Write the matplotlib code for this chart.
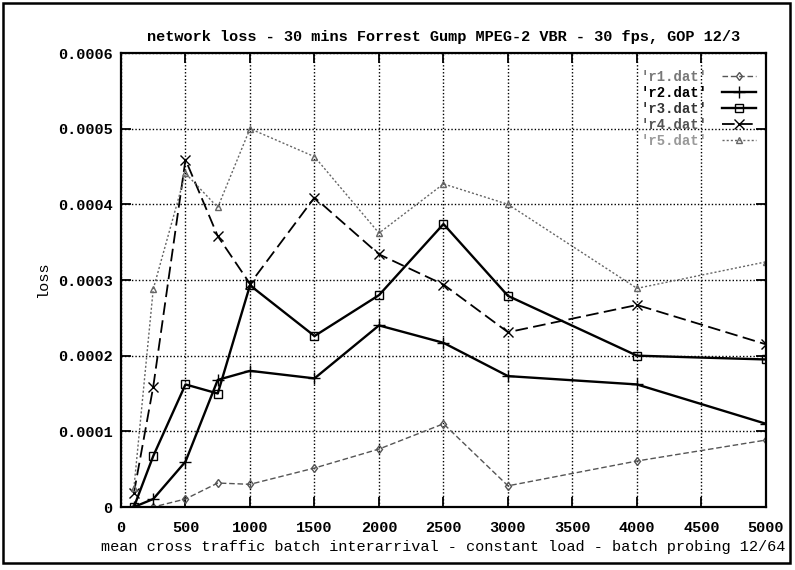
import matplotlib
matplotlib.use("Agg")
from matplotlib import pyplot as plt
from matplotlib.patches import Rectangle

# batch interarrival values probed
interarrival = [100, 250, 500, 750, 1000, 1500, 2000, 2500, 3000, 4000, 5000]

r1 = [0.0, 0.0, 0.0000106, 0.0000317, 0.00003, 0.0000515, 0.0000766, 0.00011,
      0.000028, 0.0000608, 0.0000885]
r2 = [0.0, 0.0000106, 0.00006, 0.000168, 0.00018, 0.00017, 0.00024, 0.000217,
      0.000173, 0.000162, 0.00011]
r3 = [0.0, 0.0000674, 0.000162, 0.00015, 0.000293, 0.000226, 0.00028, 0.000374,
      0.000279, 0.0002, 0.000195]
r4 = [0.0000185, 0.000159, 0.000459, 0.000358, 0.000295, 0.000409, 0.000334,
      0.000294, 0.000231, 0.000267, 0.000215]
r5 = [0.000025, 0.000288, 0.000441, 0.000396, 0.0005, 0.000463, 0.000362,
      0.000427, 0.0004, 0.000289, 0.000324]

labels = ["'r1.dat'", "'r2.dat'", "'r3.dat'", "'r4.dat'", "'r5.dat'"]
xticks = [0, 500, 1000, 1500, 2000, 2500, 3000, 3500, 4000, 4500, 5000]
yticks = [0, 0.0001, 0.0002, 0.0003, 0.0004, 0.0005, 0.0006]
ytick_labels = ["0", "0.0001", "0.0002", "0.0003", "0.0004", "0.0005", "0.0006"]

plt.rcParams["font.family"] = ["Liberation Mono", "DejaVu Sans Mono"]
plt.rcParams["font.weight"] = "bold"
plt.rcParams["font.size"] = 11

fig = plt.figure(figsize=(7.95, 5.70), dpi=100)
ax = fig.add_axes([0.1522, 0.1105, 0.8113, 0.7965])

# page border around the whole plot
fig.patches.append(Rectangle((0.004, 0.012), 0.99, 0.982, transform=fig.transFigure,
                             fill=False, edgecolor="black", linewidth=1.8))

styles = [
    dict(color="#555555", linestyle=(0, (4, 2)), linewidth=1.0, marker="d", markersize=4.5,
         markerfacecolor="none"),
    dict(color="black", linestyle="-", linewidth=1.7, marker="+", markersize=8),
    dict(color="black", linestyle="-", linewidth=1.7, marker="s", markersize=6,
         markerfacecolor="none"),
    dict(color="black", linestyle=(0, (7, 3)), linewidth=1.3, marker="x", markersize=7),
    dict(color="#666666", linestyle=(0, (1.5, 1.5)), linewidth=1.0, marker="^", markersize=4.5,
         markerfacecolor="none"),
]
for ys, lab, st in zip([r1, r2, r3, r4, r5], labels, styles):
    ax.plot(interarrival, ys, label=lab, **st)

ax.set_xlim(0, 5000)
ax.set_ylim(0, 0.0006)
ax.set_xticks(xticks)
ax.set_xticklabels([str(t) for t in xticks])
ax.set_yticks(yticks)
ax.set_yticklabels(ytick_labels)
ax.tick_params(direction="in", length=7, width=1.3, top=True, right=True)
ax.tick_params(axis="x", pad=10)
ax.tick_params(axis="y", pad=6)
ax.grid(True, color="black", linestyle=(0, (1, 1.5)), linewidth=1.0)
for sp in ax.spines.values():
    sp.set_linewidth(1.6)

ax.set_title("network loss - 30 mins Forrest Gump MPEG-2 VBR - 30 fps, GOP 12/3",
             fontsize=11, fontweight="bold", pad=9)
ax.set_xlabel("mean cross traffic batch interarrival - constant load - batch probing 12/64",
              labelpad=4)
ax.set_ylabel("loss", labelpad=6)

leg = ax.legend(loc="upper right", bbox_to_anchor=(1.0, 0.985), frameon=False,
                markerfirst=False, handlelength=2.5, handletextpad=1.0,
                borderaxespad=0.3, labelspacing=0.15, fontsize=10)
for txt, c in zip(leg.get_texts(), ["#777777", "black", "#333333", "#555555", "#999999"]):
    txt.set_color(c)

fig.savefig("out.png", dpi=100)
